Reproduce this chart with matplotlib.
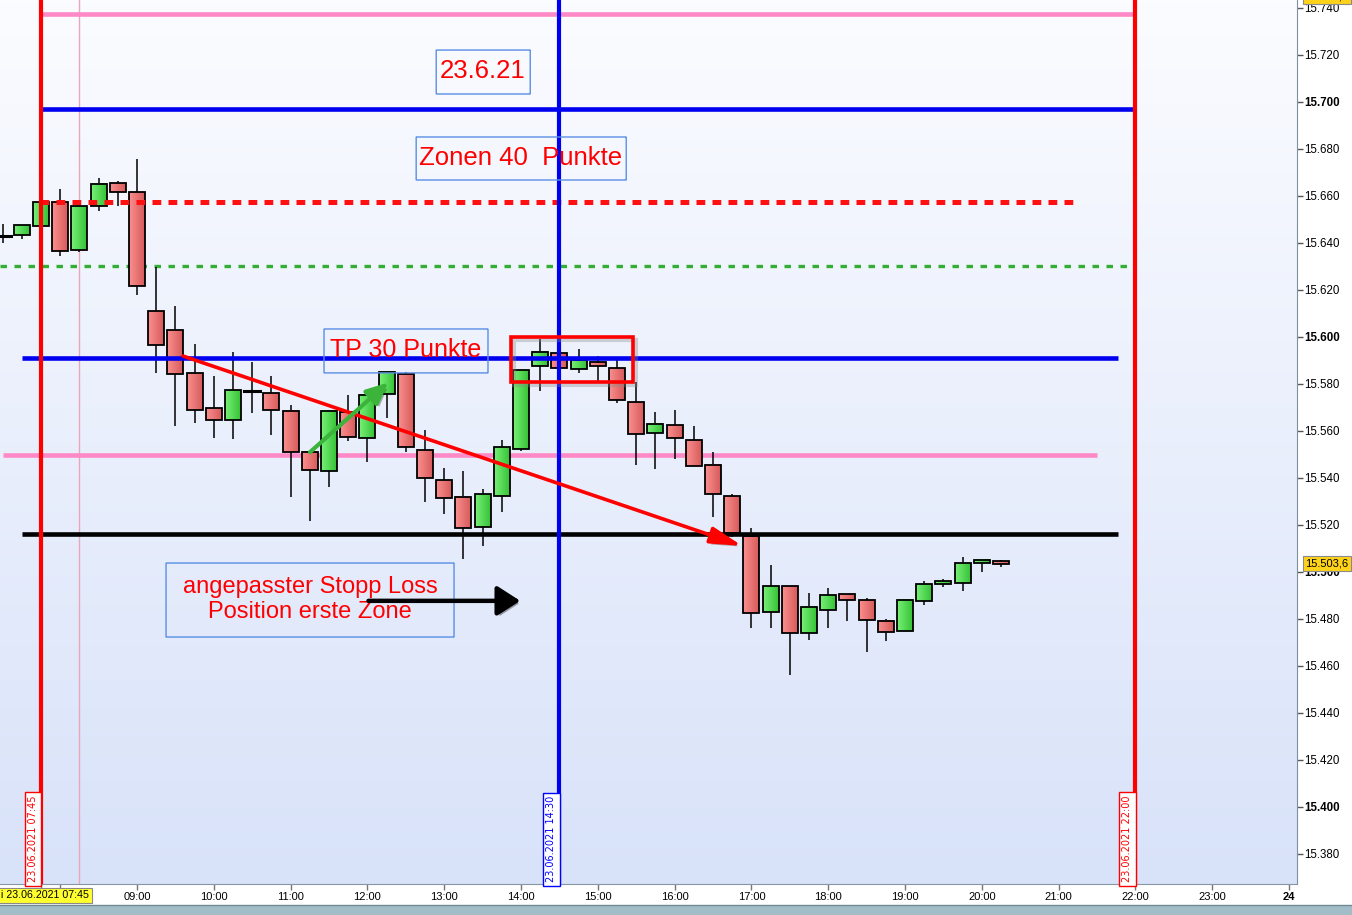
import numpy as np
import matplotlib
matplotlib.use("Agg")
import matplotlib.pyplot as plt
from matplotlib.colors import LinearSegmentedColormap
from matplotlib.patches import Rectangle, FancyBboxPatch, FancyArrowPatch
import matplotlib.patheffects as pe
import matplotlib.transforms as mtransforms

plt.rcParams['font.family'] = ['Liberation Sans', 'DejaVu Sans']

# ---------------- data (15-minute candles, 23.06.2021) ----------------
times = ["07:15", "07:30", "07:45", "08:00", "08:15", "08:30", "08:45", "09:00",
         "09:15", "09:30", "09:45", "10:00", "10:15", "10:30", "10:45", "11:00",
         "11:15", "11:30", "11:45", "12:00", "12:15", "12:30", "12:45", "13:00",
         "13:15", "13:30", "13:45", "14:00", "14:15", "14:30", "14:45", "15:00",
         "15:15", "15:30", "15:45", "16:00", "16:15", "16:30", "16:45", "17:00",
         "17:15", "17:30", "17:45", "18:00", "18:15", "18:30", "18:45", "19:00",
         "19:15", "19:30", "19:45", "20:00", "20:15"]
opens = [15643.0, 15643.3, 15647.1, 15657.3, 15636.9, 15655.6, 15665.4, 15661.6,
         15610.9, 15602.8, 15584.5, 15569.7, 15564.6, 15576.8, 15576.0, 15568.5,
         15551.0, 15542.8, 15568.0, 15556.9, 15575.6, 15584.3, 15551.8, 15539.0,
         15531.8, 15519.1, 15532.3, 15552.2, 15587.5, 15593.0, 15586.3, 15589.2,
         15586.7, 15572.2, 15559.0, 15562.4, 15556.0, 15545.4, 15532.2, 15515.2,
         15482.9, 15493.9, 15473.9, 15483.7, 15490.5, 15488.0, 15479.0, 15474.8,
         15487.6, 15494.8, 15495.2, 15503.7, 15504.5]
highs = [15648.0, 15647.5, 15657.5, 15662.8, 15655.6, 15667.5, 15666.4, 15675.7,
         15629.7, 15613.2, 15597.0, 15583.4, 15593.4, 15589.5, 15583.4, 15571.0,
         15551.0, 15569.0, 15575.2, 15575.2, 15585.6, 15585.3, 15560.4, 15544.3,
         15543.0, 15535.2, 15556.2, 15586.0, 15599.0, 15595.0, 15594.8, 15591.9,
         15590.0, 15580.9, 15567.9, 15568.8, 15562.0, 15551.0, 15533.0, 15518.6,
         15502.9, 15493.9, 15491.0, 15493.0, 15490.5, 15489.0, 15479.9, 15488.0,
         15496.0, 15496.9, 15506.3, 15505.0, 15505.0]
lows = [15640.0, 15641.6, 15647.0, 15634.5, 15636.0, 15653.4, 15655.9, 15618.0,
        15584.6, 15562.3, 15563.3, 15556.8, 15556.5, 15567.5, 15558.2, 15531.7,
        15521.8, 15536.0, 15555.9, 15547.0, 15565.7, 15551.0, 15529.9, 15524.5,
        15505.4, 15511.2, 15525.3, 15551.4, 15576.8, 15585.0, 15584.5, 15581.4,
        15571.8, 15545.3, 15543.7, 15548.0, 15545.0, 15523.3, 15515.0, 15476.0,
        15476.0, 15456.0, 15470.9, 15476.0, 15479.0, 15465.8, 15470.5, 15474.8,
        15485.8, 15493.5, 15491.8, 15499.9, 15502.0]
closes = [15643.0, 15647.5, 15657.3, 15636.5, 15655.6, 15665.0, 15661.6, 15621.6,
          15596.5, 15584.2, 15568.9, 15564.7, 15577.3, 15576.8, 15568.8, 15551.0,
          15543.3, 15568.4, 15557.3, 15575.2, 15585.0, 15553.0, 15539.9, 15531.4,
          15518.6, 15533.1, 15553.1, 15585.8, 15593.5, 15586.7, 15590.0, 15587.6,
          15573.1, 15558.6, 15562.9, 15556.9, 15545.0, 15533.0, 15516.5, 15482.4,
          15493.9, 15473.9, 15485.0, 15490.0, 15488.0, 15479.5, 15474.3, 15488.0,
          15494.8, 15496.0, 15503.7, 15505.0, 15503.3]

# horizontal drawn levels
level_pink_top = 15737.4
level_blue_top = 15697.0
level_red_dotted = 15657.4
level_green_dotted = 15630.2
level_blue_tp = 15591.1
level_pink_mid = 15549.8
level_black_stop = 15516.2

# vertical markers
vline_labels = ["23.06.2021 07:45", "23.06.2021 14:30", "23.06.2021 22:00"]
x_ticks_labels = ["09:00", "10:00", "11:00", "12:00", "13:00", "14:00", "15:00",
                  "16:00", "17:00", "18:00", "19:00", "20:00", "21:00", "22:00",
                  "23:00", "24"]
y_ticks = list(range(15380, 15741, 20))
last_price = 15503.6
top_price = 15744.8


def hrs(s):
    h, m = s.split(":")
    return int(h) + int(m) / 60.0


tx = np.array([hrs(t) for t in times])

# ---------------- figure ----------------
W, H = 1352, 915
fig = plt.figure(figsize=(W / 100, H / 100), dpi=100)
fig.patch.set_facecolor("white")
ax = fig.add_axes([0, 31 / H, 1297 / W, 884 / H])
XMIN, XMAX = 7.216, 24.104
YMIN, YMAX = 15367.2, 15743.4

# background gradient
grad = np.linspace(0, 1, 256).reshape(-1, 1)
bg_cmap = LinearSegmentedColormap.from_list("bg", ["#d8e2f9", "#fbfcff"])
ax.imshow(grad, extent=[XMIN, XMAX, YMIN, YMAX], origin="lower", cmap=bg_cmap,
          aspect="auto", zorder=0)

# candles
red_cmap = LinearSegmentedColormap.from_list("r", ["#fb9090", "#d65a5a"])
grn_cmap = LinearSegmentedColormap.from_list("g", ["#78f078", "#36c236"])
hgrad = np.linspace(0, 1, 64).reshape(1, -1)
bw = 0.208
for x, o, h, l, c in zip(tx, opens, highs, lows, closes):
    ax.plot([x, x], [l, h], color="black", lw=1.1, zorder=3, solid_capstyle="butt")
    lo, hi = min(o, c), max(o, c)
    if abs(c - o) < 0.3:
        ax.plot([x - bw / 2, x + bw / 2], [o, o], color="black", lw=2.2, zorder=4)
        continue
    cm = grn_cmap if c > o else red_cmap
    ax.imshow(hgrad, extent=[x - bw / 2, x + bw / 2, lo, hi], cmap=cm,
              aspect="auto", zorder=4)
    ax.add_patch(Rectangle((x - bw / 2, lo), bw, hi - lo, fill=False,
                           ec="black", lw=1.3, zorder=5))

# horizontal lines
t0745, t1430, t2200, t0815 = hrs("07:45"), hrs("14:30"), hrs("22:00"), hrs("08:15")
ax.hlines(level_pink_top, t0745, t2200, color="#ff88c6", lw=3.3, zorder=2)
ax.hlines(level_blue_top, t0745, t2200, color="#0000f0", lw=3.3, zorder=2)
ax.plot([7.74, 21.2], [level_red_dotted] * 2, color="#ff1010", lw=3.6,
        dashes=(1.75, 1.45), zorder=6)
ax.plot([XMIN, t2200], [level_green_dotted] * 2, color="#33b033", lw=2.4,
        dashes=(1.95, 2.25), zorder=2)
ax.hlines(level_blue_tp, 7.5, 21.77, color="#0000f0", lw=3.3, zorder=6)
ax.hlines(level_pink_mid, 7.255, 21.5, color="#ff88c6", lw=3.3, zorder=2)
ax.hlines(level_black_stop, 7.5, 21.77, color="black", lw=3.3, zorder=6)

# vertical lines
ax.axvline(t0815, color="#e8a8bc", lw=1.0, zorder=1)
ax.axvline(t0745, color="#ff0000", lw=3.0, zorder=6)
ax.axvline(t1430, color="#0000f0", lw=3.0, zorder=6)
ax.axvline(t2200, color="#ff0000", lw=3.0, zorder=6)
for xv, lab, col in zip([t0745, t1430, t2200], vline_labels, ["red", "blue", "red"]):
    ax.annotate(lab, xy=(xv, YMIN), xytext=(-2.2, 1.2), textcoords="offset points",
                rotation=90, ha="right", va="bottom", fontsize=7, color=col,
                family="DejaVu Sans",
                bbox=dict(boxstyle="square,pad=0.35", fc="white", ec=col, lw=1.0),
                zorder=7)

# text boxes
def tbox(x0, x1, y0, y1):
    p = FancyBboxPatch((x0, y0), x1 - x0, y1 - y0,
                       boxstyle="round,pad=0,rounding_size=0.03",
                       fc="none", ec="#5a8ee6", lw=1.0, zorder=7,
                       mutation_aspect=2.35 / 76.8 * 1)
    ax.add_patch(p)

tbox(12.896, 14.12, 15703.4, 15722.1)
ax.text(13.505, 15713.0, "23.6.21", color="red", fontsize=18.5, ha="center",
        va="center", zorder=8)
tbox(12.635, 15.37, 15666.8, 15685.1)
ax.text(14.0, 15676.0, "Zonen 40  Punkte", color="red", fontsize=18.5,
        ha="center", va="center", zorder=8)
tbox(11.435, 13.57, 15584.7, 15603.4)
ax.text(12.503, 15594.6, "TP 30 Punkte", color="red", fontsize=18,
        ha="center", va="center", zorder=8)
tbox(9.378, 13.128, 15472.3, 15503.8)
ax.text(11.253, 15488.4, "angepasster Stopp Loss\nPosition erste Zone",
        color="red", fontsize=17, ha="center", va="center", linespacing=1.2,
        zorder=8)

shadow = [pe.SimplePatchShadow(offset=(2, -2), alpha=0.35), pe.Normal()]

# red rectangle around the top (with a soft offset shadow of its outline)
rx0, rx1, ry0, ry1 = 13.87, 15.458, 15580.9, 15600.0
shadow_tr = mtransforms.offset_copy(ax.transData, fig=fig, x=2, y=-2,
                                    units="points")
ax.add_patch(Rectangle((rx0, ry0), rx1 - rx0, ry1 - ry0, fill=False,
                       ec="#888888", lw=3.0, alpha=0.35, zorder=7.9,
                       transform=shadow_tr))
ax.add_patch(Rectangle((rx0, ry0), rx1 - rx0, ry1 - ry0, fill=False,
                       ec="#ff0000", lw=2.6, zorder=8))

# arrows
a1 = FancyArrowPatch((9.598, 15591.9), (16.88, 15511.1),
                     arrowstyle="-|>,head_length=19,head_width=5",
                     mutation_scale=1, color="#ff0000", lw=2.6, zorder=8,
                     shrinkA=0, shrinkB=0)
a1.set_path_effects(shadow)
ax.add_patch(a1)
a2 = FancyArrowPatch((11.253, 15551.0), (12.27, 15580.6),
                     arrowstyle="-|>,head_length=13,head_width=6",
                     mutation_scale=1, color="#3cb43c", lw=3.0, zorder=8,
                     shrinkA=0, shrinkB=0)
a2.set_path_effects(shadow)
ax.add_patch(a2)
a3 = FancyArrowPatch((12.014, 15487.7), (13.99, 15487.7),
                     arrowstyle="-|>,head_length=14,head_width=9",
                     mutation_scale=1, color="black", lw=3.2, zorder=8,
                     shrinkA=0, shrinkB=0)
a3.set_path_effects(shadow)
ax.add_patch(a3)

# axes formatting
ax.set_xlim(XMIN, XMAX)
ax.set_ylim(YMIN, YMAX)
for s in ["left", "top"]:
    ax.spines[s].set_visible(False)
ax.spines["right"].set_color("#7d909e")
ax.spines["bottom"].set_color("#8796a4")
ax.yaxis.tick_right()
ax.set_yticks(y_ticks)
ax.set_yticklabels([f"{v:,.0f}".replace(",", ".") for v in y_ticks])
for v, lab in zip(y_ticks, ax.get_yticklabels()):
    if v % 100 == 0:
        lab.set_fontweight("bold")
ax.tick_params(axis="y", direction="out", length=4, width=1, color="#555555",
               labelsize=8.3, pad=1.5)
xt = [hrs(s) if ":" in s else 24.0 for s in x_ticks_labels]
ax.set_xticks([t0745, hrs("08:00")] + xt)
ax.set_xticklabels(["", ""] + x_ticks_labels)
for lab in ax.get_xticklabels():
    if lab.get_text() == "24":
        lab.set_fontweight("bold")
        lab.set_fontsize(9)
ax.tick_params(axis="x", direction="out", length=4, width=1, color="#777777",
               labelsize=8, pad=1.5)

# price labels on the right scale
for pv in [last_price, top_price]:
    s = f"{pv:,.1f}".replace(",", "X").replace(".", ",").replace("X", ".")
    ax.annotate(s, xy=(1.0, pv), xycoords=("axes fraction", "data"),
                xytext=(5.8, 0), textcoords="offset points", fontsize=8.0,
                va="center", ha="left", annotation_clip=False,
                bbox=dict(boxstyle="square,pad=0.22", fc="#ffd21a", ec="#8a8a8a",
                          lw=0.8), zorder=10)

# bottom-left date label (cut at the left edge, as in the platform view)
fig.text(89 / W, (915 - 895.5) / H, "Mi 23.06.2021 07:45", ha="right",
         va="center", fontsize=7.7,
         bbox=dict(boxstyle="square,pad=0.25", fc="#ffff30", ec="#8a8a8a", lw=0.8))

# bottom toolbar strip
fig.patches.append(Rectangle((0, 0), 1, 10 / H, transform=fig.transFigure,
                             fc="#a2bcc8", ec="none", zorder=0))
fig.lines.append(plt.Line2D([0, 1], [10 / H, 10 / H], transform=fig.transFigure,
                            color="#6f8a96", lw=1))

fig.savefig("out.png", dpi=100, facecolor="white")
